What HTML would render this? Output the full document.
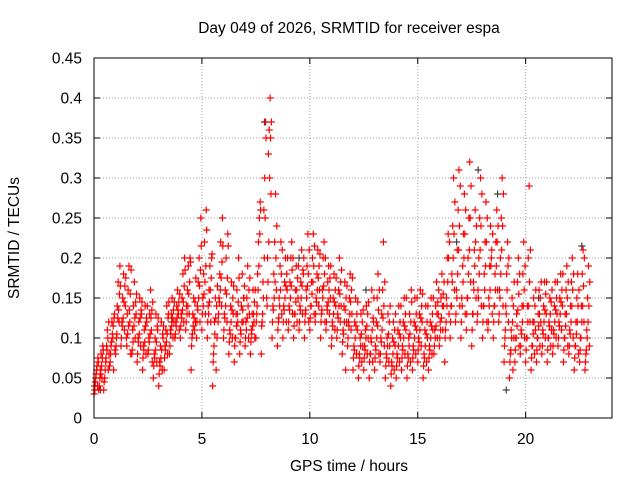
<!DOCTYPE html>
<html><head><meta charset="utf-8">
<style>
body{margin:0;background:#fff;}
svg{display:block;font-family:"Liberation Sans",sans-serif;}
</style></head>
<body>
<svg id="chart" width="640" height="480" viewBox="0 0 640 480" xmlns="http://www.w3.org/2000/svg">
<rect width="640" height="480" fill="#fff"/>
<text x="349" y="33" font-size="15.5" text-anchor="middle">Day 049 of 2026, SRMTID for receiver espa</text>
<text x="0" y="0" font-size="15.5" text-anchor="middle" transform="translate(19,238) rotate(-90)">SRMTID / TECUs</text>
<text x="349" y="471" font-size="15.5" text-anchor="middle">GPS time / hours</text>
<g id="grid"></g>
<g id="marks"></g>
<rect x="94" y="58" width="518" height="360" fill="none" stroke="#000" stroke-width="1"/>
</svg>
<script>
const xTicks=[0,5,10,15,20];
const yTicks=[0,0.05,0.1,0.15,0.2,0.25,0.3,0.35,0.4,0.45];
const yTickLabels=["0","0.05","0.1","0.15","0.2","0.25","0.3","0.35","0.4","0.45"];
const times=[0,0.25,0.5,0.75,1,1.25,1.5,1.75,2,2.25,2.5,2.75,3,3.25,3.5,3.75,4,4.25,4.5,4.75,5,5.25,5.5,5.75,6,6.25,6.5,6.75,7,7.25,7.5,7.75,8,8.25,8.5,8.75,9,9.25,9.5,9.75,10,10.25,10.5,10.75,11,11.25,11.5,11.75,12,12.25,12.5,12.75,13,13.25,13.5,13.75,14,14.25,14.5,14.75,15,15.25,15.5,15.75,16,16.25,16.5,16.75,17,17.25,17.5,17.75,18,18.25,18.5,18.75,19,19.25,19.5,19.75,20,20.25,20.5,20.75,21,21.25,21.5,21.75,22,22.25,22.5,22.75];
const values=[
[.03,.035,.05,.06,.04,.07],[.04,.06,.08,.05,.09,.035],[.05,.07,.09,.11,.06,.08],[.07,.09,.12,.1,.06,.13],
[.08,.1,.14,.17,.12,.19],[.09,.12,.15,.18,.11,.14],[.1,.13,.16,.19,.12,.08],[.08,.11,.14,.17,.1,.13],
[.07,.1,.12,.15,.09,.13],[.06,.09,.11,.14,.08,.12],[.08,.1,.13,.16,.11,.07],[.05,.08,.1,.13,.07,.11],
[.04,.07,.09,.12,.06,.1],[.06,.09,.11,.14,.08,.13],[.08,.11,.13,.15,.1,.12],[.1,.12,.14,.16,.13,.11],
[.1,.13,.15,.18,.12,.2],[.11,.14,.16,.19,.13,.2],[.06,.1,.13,.15,.11,.12],[.1,.14,.17,.2,.12,.25],
[.11,.15,.18,.22,.13,.26],[.1,.14,.16,.19,.12,.2],[.04,.08,.12,.15,.06,.1],[.12,.15,.18,.22,.14,.25],
[.1,.13,.16,.2,.12,.23],[.08,.11,.14,.17,.1,.13],[.07,.1,.13,.16,.12,.2],[.08,.11,.14,.18,.12,.15],
[.09,.12,.15,.19,.1,.13],[.08,.11,.13,.16,.12,.1],[.1,.13,.18,.22,.25,.27],[.08,.12,.17,.26,.3,.37],
[.15,.2,.33,.36,.4,.28],[.1,.14,.18,.22,.28,.16],[.09,.12,.15,.19,.22,.13],[.1,.14,.17,.2,.12,.16],
[.11,.14,.17,.2,.22,.13],[.1,.13,.16,.19,.12,.15],[.11,.14,.17,.21,.13,.18],[.1,.13,.16,.19,.23,.12],
[.11,.14,.17,.2,.23,.13],[.12,.15,.18,.21,.14,.16],[.1,.13,.16,.2,.22,.12],[.11,.14,.17,.19,.13,.15],
[.09,.12,.15,.18,.11,.14],[.1,.13,.16,.2,.12,.14],[.08,.11,.14,.17,.06,.12],[.09,.12,.15,.18,.11,.13],
[.06,.09,.12,.15,.08,.11],[.05,.08,.1,.13,.07,.09],[.06,.09,.11,.14,.08,.1],[.05,.08,.1,.16,.07,.12],
[.06,.09,.12,.15,.18,.08],[.07,.1,.13,.16,.22,.09],[.05,.08,.1,.13,.07,.09],[.04,.07,.1,.12,.06,.09],
[.05,.08,.11,.14,.07,.1],[.06,.09,.12,.15,.08,.11],[.05,.08,.1,.13,.07,.16],[.06,.09,.12,.15,.08,.11],
[.07,.1,.13,.16,.09,.12],[.05,.08,.11,.14,.07,.1],[.06,.09,.12,.15,.08,.11],[.08,.11,.14,.17,.1,.13],
[.09,.12,.15,.18,.11,.14],[.07,.11,.15,.2,.23,.13],[.1,.14,.18,.24,.3,.16],[.12,.16,.21,.26,.31,.14],
[.1,.15,.19,.23,.28,.13],[.11,.15,.2,.25,.32,.17],[.09,.13,.17,.21,.26,.15],[.12,.16,.2,.25,.3,.14],
[.1,.14,.18,.22,.27,.12],[.11,.15,.19,.24,.2,.13],[.1,.14,.18,.22,.26,.16],[.12,.16,.2,.25,.3,.14],
[.07,.1,.14,.18,.22,.12],[.05,.08,.11,.15,.06,.1],[.07,.1,.13,.17,.2,.09],[.08,.11,.14,.18,.22,.1],
[.07,.1,.14,.2,.29,.12],[.06,.09,.12,.15,.08,.11],[.07,.1,.13,.16,.09,.12],[.08,.11,.14,.17,.1,.13],
[.07,.1,.12,.15,.09,.11],[.08,.11,.14,.17,.1,.13],[.09,.12,.15,.18,.11,.14],[.07,.1,.13,.16,.19,.09],
[.08,.11,.14,.17,.2,.1],[.06,.09,.12,.15,.18,.08],[.07,.1,.14,.18,.21,.12],[.06,.08,.11,.15,.19,.09]
];
const values2=[
[.04,.045,.055,.065,.075,.035],[.05,.055,.065,.075,.085,.045],[.06,.075,.085,.1,.12,.065],[.08,.095,.105,.115,.125,.085],
[.09,.105,.125,.135,.155,.165],[.1,.115,.125,.145,.165,.175],[.09,.105,.115,.135,.155,.185],[.085,.095,.115,.125,.145,.155],
[.08,.095,.105,.125,.135,.145],[.075,.085,.095,.115,.125,.14],[.085,.095,.105,.125,.135,.145],[.065,.075,.085,.095,.115,.125],
[.055,.065,.075,.085,.105,.115],[.075,.085,.095,.105,.125,.145],[.09,.105,.115,.125,.135,.145],[.105,.115,.125,.135,.145,.155],
[.115,.125,.135,.145,.165,.185],[.12,.13,.14,.155,.17,.195],[.09,.105,.115,.125,.145,.175],[.12,.135,.15,.165,.185,.215],
[.13,.14,.155,.17,.19,.235],[.12,.13,.145,.16,.175,.205],[.07,.09,.105,.125,.14,.165],[.13,.145,.16,.175,.195,.215],
[.11,.125,.14,.155,.175,.215],[.095,.105,.12,.135,.15,.165],[.09,.1,.115,.13,.145,.175],[.095,.105,.12,.135,.15,.165],
[.1,.11,.125,.14,.16,.175],[.095,.105,.115,.13,.145,.16],[.12,.14,.16,.19,.23,.26],[.115,.13,.15,.2,.25,.35],
[.14,.17,.22,.3,.35,.37],[.12,.135,.15,.17,.2,.24],[.11,.125,.14,.16,.18,.21],[.12,.135,.15,.165,.18,.2],
[.12,.135,.15,.165,.185,.2],[.115,.13,.145,.16,.175,.19],[.12,.135,.15,.165,.185,.2],[.12,.135,.15,.165,.18,.21],
[.125,.14,.155,.17,.19,.215],[.13,.145,.16,.175,.19,.205],[.12,.135,.15,.165,.18,.2],[.12,.135,.145,.16,.175,.19],
[.1,.115,.13,.145,.16,.175],[.11,.125,.14,.155,.17,.185],[.095,.105,.12,.135,.15,.165],[.1,.115,.13,.145,.16,.175],
[.075,.085,.1,.115,.13,.145],[.065,.075,.09,.105,.12,.135],[.075,.085,.1,.115,.13,.145],[.07,.08,.095,.11,.125,.15],
[.075,.085,.1,.115,.135,.16],[.08,.095,.11,.125,.14,.17],[.065,.075,.09,.105,.12,.14],[.055,.065,.08,.095,.11,.13],
[.065,.075,.09,.105,.12,.14],[.075,.085,.1,.115,.13,.15],[.065,.075,.09,.105,.12,.145],[.075,.085,.1,.115,.13,.15],
[.085,.095,.11,.125,.14,.155],[.065,.075,.09,.105,.12,.14],[.075,.085,.1,.115,.13,.15],[.09,.1,.115,.13,.145,.16],
[.1,.11,.125,.14,.155,.17],[.1,.12,.14,.17,.2,.22],[.12,.14,.17,.2,.23,.27],[.13,.15,.18,.21,.24,.29],
[.12,.14,.17,.2,.23,.26],[.13,.15,.18,.21,.25,.29],[.11,.13,.16,.19,.22,.24],[.13,.15,.18,.21,.24,.28],
[.12,.14,.16,.19,.22,.25],[.12,.14,.16,.19,.21,.23],[.12,.14,.16,.19,.22,.24],[.13,.15,.18,.21,.24,.28],
[.09,.11,.13,.16,.19,.2],[.07,.085,.1,.12,.14,.17],[.085,.1,.115,.135,.155,.18],[.09,.105,.12,.14,.16,.19],
[.085,.1,.12,.14,.17,.21],[.075,.09,.105,.12,.14,.16],[.085,.1,.115,.13,.15,.17],[.09,.105,.12,.135,.155,.17],
[.085,.1,.115,.13,.145,.16],[.09,.105,.12,.135,.15,.17],[.1,.115,.13,.145,.16,.18],[.085,.1,.115,.13,.15,.17],
[.09,.105,.12,.14,.16,.18],[.075,.09,.105,.12,.14,.16],[.085,.1,.12,.14,.165,.2],[.07,.085,.1,.12,.14,.17]
];
const grayTimes=[0.3,3.6,7.9,9.5,12.6,16.8,17.8,18.7,19.1,20.6,22.6];
const grayValues=[0.035,0.12,0.37,0.2,0.16,0.22,0.31,0.28,0.035,0.15,0.215];

const X0=94,X1=612,Y0=418,Y1=58;
const xs=t=>X0+(t/24)*(X1-X0);
const ys=v=>Y0-(v/0.45)*(Y0-Y1);
const NS="http://www.w3.org/2000/svg";
const grid=document.getElementById('grid');
const marks=document.getElementById('marks');
const svg=document.getElementById('chart');
function mk(tag,attrs,parent){const e=document.createElementNS(NS,tag);for(const k in attrs)e.setAttribute(k,attrs[k]);parent.appendChild(e);return e;}

yTicks.forEach((v,i)=>{
  const y=ys(v);
  if(i>0&&i<yTicks.length-1){
    const g=mk('line',{x1:X0,x2:X1,y1:y,y2:y,stroke:'#a0a0a0','stroke-dasharray':'1,2'},grid);
    
    
  }
  const tk=mk('path',{d:`M${X0} ${y}h6M${X1} ${y}h-6`,stroke:'#000'},grid);
  
  
  const t=mk('text',{x:82,y:y+5.5,'font-size':15.5,'text-anchor':'end'},svg);
  t.textContent=yTickLabels[i];
  
  
});
xTicks.forEach(v=>{
  const x=xs(v);
  if(v>0){
    const g=mk('line',{x1:x,x2:x,y1:Y0,y2:Y1,stroke:'#a0a0a0','stroke-dasharray':'1,2'},grid);
    
    
  }
  const tk=mk('path',{d:`M${x} ${Y0}v-6M${x} ${Y1}v6`,stroke:'#000'},grid);
  
  
  const t=mk('text',{x:x,y:444,'font-size':15.5,'text-anchor':'middle'},svg);
  t.textContent=String(v);
  
  
});
function cross(x,y,color,name){
  const p=mk('path',{d:`M${x-3.5} ${y}h7M${x} ${y-3.5}v7`,stroke:color,'stroke-width':1.2},marks);
  
  
}
grayTimes.forEach((t,i)=>cross(xs(t),ys(grayValues[i]),'#404040','gray-point'));
times.forEach((t,i)=>{
  values[i].forEach((v,k)=>{
    cross(xs(t+k*0.04),ys(v),'#ff0000','srmtid-point');
  });
  values2[i].forEach((v,k)=>{
    cross(xs(t+0.02+k*0.04),ys(v),'#ff0000','srmtid-point');
  });
});
</script>
</body></html>
